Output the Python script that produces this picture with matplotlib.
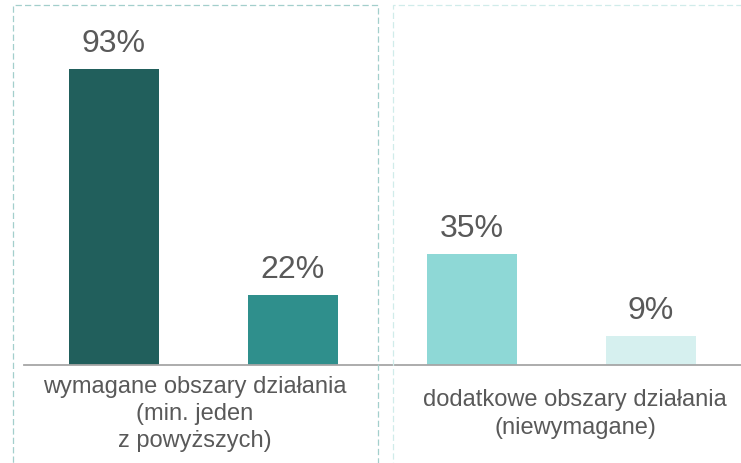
import matplotlib
matplotlib.use("Agg")
import matplotlib.pyplot as plt
from matplotlib.patches import Rectangle

plt.rcParams['font.family'] = ['Liberation Sans', 'DejaVu Sans']

values = [93, 22, 35, 9]
value_labels = ["93%", "22%", "35%", "9%"]
bar_colors = ["#215f5c", "#2f8f8c", "#8ed8d6", "#d6f0ef"]
group_labels = ["wymagane obszary działania\n(min. jeden\nz powyższych)",
                "dodatkowe obszary działania\n(niewymagane)"]

W, H = 741, 463
fig = plt.figure(figsize=(W / 100, H / 100), dpi=100)

# axes: pixel y from 5 (top) to 365 (baseline)
ax_top_px, base_px = 5, 365
ax = fig.add_axes([0, (H - base_px) / H, 1, (base_px - ax_top_px) / H])
px_per_unit = 296 / 93.0
ax.set_ylim(0, (base_px - ax_top_px) / px_per_unit)
spacing = 179.0
first_center = 114.0
ax.set_xlim(-first_center / spacing, (W - first_center) / spacing)
ax.axis('off')

xs = list(range(len(values)))
ax.bar(xs, values, width=90 / spacing, color=bar_colors)
for x, v, lab in zip(xs, values, value_labels):
    ax.annotate(lab, (x, v), xytext=(0, 12.2), textcoords='offset points',
                ha='center', va='baseline', fontsize=23, color='#595959')

# baseline
ax.axhline(0, xmin=24 / W, xmax=1, color='#a6a6a6', lw=1.3, clip_on=False)

# dashed boxes in figure pixel coords
def fx(px):
    return px / W

def fy(py):
    return 1 - py / H

fig.patches.append(Rectangle((fx(13), fy(470)), fx(378) - fx(13), fy(5) - fy(470),
                             transform=fig.transFigure, fill=False,
                             edgecolor='#a3cfcc', lw=0.9, linestyle=(0, (5, 2.5))))
fig.patches.append(Rectangle((fx(393), fy(470)), fx(760) - fx(393), fy(5) - fy(470),
                             transform=fig.transFigure, fill=False,
                             edgecolor='#d0ecea', lw=0.9, linestyle=(0, (5, 2.5))))

fig.text(fx(195), fy(414), group_labels[0], ha='center', va='center',
         fontsize=17, color='#595959', linespacing=1.3)
fig.text(fx(575), fy(414), group_labels[1], ha='center', va='center',
         fontsize=17, color='#595959', linespacing=1.3)

fig.savefig("out.png", dpi=100)
